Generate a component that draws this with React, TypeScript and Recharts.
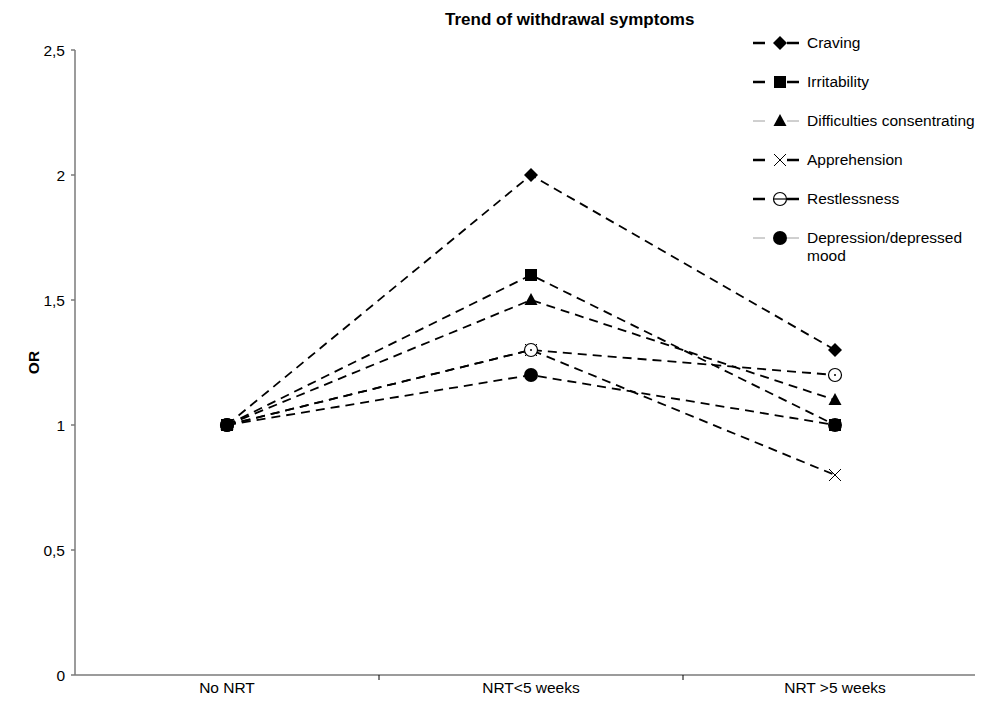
import React from 'react'
import { LineChart, Line, XAxis, YAxis, ReferenceLine, Legend } from 'recharts'

const CATEGORIES = ['No NRT', 'NRT<5 weeks', 'NRT >5 weeks']
const CRAVING = [1, 2, 1.3]
const IRRITABILITY = [1, 1.6, 1.0]
const DIFFICULTIES = [1, 1.5, 1.1]
const APPREHENSION = [1, 1.3, 0.8]
const RESTLESSNESS = [1, 1.3, 1.2]
const DEPRESSION = [1, 1.2, 1.0]
const Y_TICKS = [0, 0.5, 1, 1.5, 2, 2.5]
const BASELINE = 0.95
const BASELINE_END = 2.81 // in category widths, from the y axis

const FONT = '"Liberation Sans", Arial, sans-serif'
const AXIS_GREY = '#7a7a7a'

type Shape = 'diamond' | 'square' | 'triangle' | 'cross' | 'ring' | 'disc'

const SERIES: { key: string; name: string; values: number[]; shape: Shape; legendLight: boolean }[] = [
  { key: 'craving', name: 'Craving', values: CRAVING, shape: 'diamond', legendLight: false },
  { key: 'irritability', name: 'Irritability', values: IRRITABILITY, shape: 'square', legendLight: false },
  { key: 'difficulties', name: 'Difficulties consentrating', values: DIFFICULTIES, shape: 'triangle', legendLight: true },
  { key: 'apprehension', name: 'Apprehension', values: APPREHENSION, shape: 'cross', legendLight: false },
  { key: 'restlessness', name: 'Restlessness', values: RESTLESSNESS, shape: 'ring', legendLight: false },
  { key: 'depression', name: 'Depression/depressed mood', values: DEPRESSION, shape: 'disc', legendLight: true },
]

const data = CATEGORIES.map((period, i) => {
  const row: Record<string, string | number> = { period }
  SERIES.forEach((s) => {
    row[s.key] = s.values[i]
  })
  return row
})

function Marker({ shape, cx, cy, legend }: { shape: Shape; cx: number; cy: number; legend?: boolean }) {
  if (cx == null || cy == null) return null
  switch (shape) {
    case 'diamond':
      return <polygon points={`${cx},${cy - 7} ${cx + 7},${cy} ${cx},${cy + 7} ${cx - 7},${cy}`} fill="#000" />
    case 'square':
      return <rect x={cx - 6} y={cy - 6} width={12} height={12} fill="#000" />
    case 'triangle':
      return <polygon points={`${cx},${cy - 7} ${cx + 6.5},${cy + 5} ${cx - 6.5},${cy + 5}`} fill="#000" />
    case 'cross':
      return (
        <g stroke="#000" strokeWidth={1}>
          <line x1={cx - 6} y1={cy - 6} x2={cx + 6} y2={cy + 6} />
          <line x1={cx - 6} y1={cy + 6} x2={cx + 6} y2={cy - 6} />
        </g>
      )
    case 'ring':
      return (
        <g>
          <circle cx={cx} cy={cy} r={6.5} fill="#fff" stroke="#000" strokeWidth={1.2} />
          {legend ? (
            <line x1={cx - 6} y1={cy} x2={cx + 6} y2={cy} stroke="#000" strokeWidth={1.2} />
          ) : (
            <circle cx={cx} cy={cy} r={1} fill="#000" />
          )}
        </g>
      )
    case 'disc':
      return <circle cx={cx} cy={cy} r={7} fill="#000" />
  }
  return null
}

function LegendContent() {
  return (
    <div style={{ fontFamily: FONT, fontSize: 15.5, color: '#000' }}>
      {SERIES.map((s) => (
        <div key={s.key} style={{ height: 39, display: 'flex', alignItems: 'flex-start', paddingTop: 10.5, boxSizing: 'border-box' }}>
          <svg width={48} height={18} style={{ flex: 'none' }}>
            <line
              x1={0}
              y1={9}
              x2={48}
              y2={9}
              stroke={s.legendLight ? '#a0a0a0' : '#000'}
              strokeWidth={s.legendLight ? 1 : 2.5}
              strokeDasharray="12 22"
            />
            <Marker shape={s.shape} cx={27} cy={9} legend />
          </svg>
          <span style={{ marginLeft: 6, lineHeight: '18px', width: 170 }}>{s.name}</span>
        </div>
      ))}
    </div>
  )
}

// category label, plus the Excel-style tick mark on the band's left edge
function CategoryTick(props: any) {
  const { x, y, payload, index } = props
  const edge = x - (payload.offset ?? 0)
  return (
    <g>
      {index > 0 && <line x1={edge} y1={y - 7} x2={edge} y2={y - 2} stroke="#000" strokeWidth={1} />}
      <text x={x} y={y} dy="0.71em" textAnchor="middle" fill="#000" fontSize={15.5} fontFamily={FONT}>
        {payload.value}
      </text>
    </g>
  )
}

function YLabel(props: any) {
  const vb = props.viewBox || {}
  const x = (vb.x ?? 0) + 25
  const y = (vb.y ?? 0) + (vb.height ?? 0) / 2
  return (
    <text x={x} y={y} transform={`rotate(-90, ${x}, ${y})`} textAnchor="middle" dominantBaseline="central"
      fontFamily={FONT} fontSize={15.5} fontWeight="bold" fill="#000">
      OR
    </text>
  )
}

export default function App() {
  return (
    <div style={{ position: 'relative', width: 975, height: 689, overflow: 'hidden', fontFamily: FONT }}>
      <div style={{ position: 'absolute', left: 437, top: 3, fontSize: 17, lineHeight: '17px', fontWeight: 'bold', color: '#000', whiteSpace: 'nowrap' }}>
        Trend of withdrawal symptoms
      </div>
      <LineChart width={982} height={689} data={data} margin={{ top: 42, right: 3, bottom: 0, left: 0 }}>
        <XAxis
          dataKey="period"
          scale="band"
          interval={0}
          height={22}
          tickLine={false}
          tickSize={0}
          tickMargin={7}
          axisLine={{ stroke: AXIS_GREY, strokeWidth: 1.5 }}
          tick={<CategoryTick />}
        />
        <XAxis xAxisId="frame" type="number" domain={[0, 3]} hide />
        <YAxis
          domain={[0, 2.5]}
          ticks={Y_TICKS}
          width={67}
          tickSize={4}
          tickMargin={6}
          tickFormatter={(v: number) => String(v).replace('.', ',')}
          axisLine={{ stroke: AXIS_GREY, strokeWidth: 1.5 }}
          tickLine={{ stroke: AXIS_GREY, strokeWidth: 1.5 }}
          tick={{ fill: '#000', fontSize: 15.5, fontFamily: FONT }}
          label={<YLabel />}
        />
        <ReferenceLine
          xAxisId="frame"
          segment={[{ x: 0, y: BASELINE }, { x: BASELINE_END, y: BASELINE }]}
          stroke={AXIS_GREY}
          strokeWidth={1.5}
        />
        {SERIES.map((s) => (
          <Line
            key={s.key}
            type="linear"
            dataKey={s.key}
            name={s.name}
            stroke="#000"
            strokeWidth={1.8}
            strokeDasharray="9 6"
            isAnimationActive={false}
            activeDot={false}
            dot={(p: any) => (
              <Marker key={`${s.key}-${p.index}`} shape={s.shape} cx={p.cx} cy={p.cy} />
            )}
          />
        ))}
        <Legend
          layout="horizontal"
          verticalAlign="middle"
          align="center"
          content={<LegendContent />}
          wrapperStyle={{ top: 15.5, left: 745, width: 235, height: 240 }}
        />
      </LineChart>
    </div>
  )
}
